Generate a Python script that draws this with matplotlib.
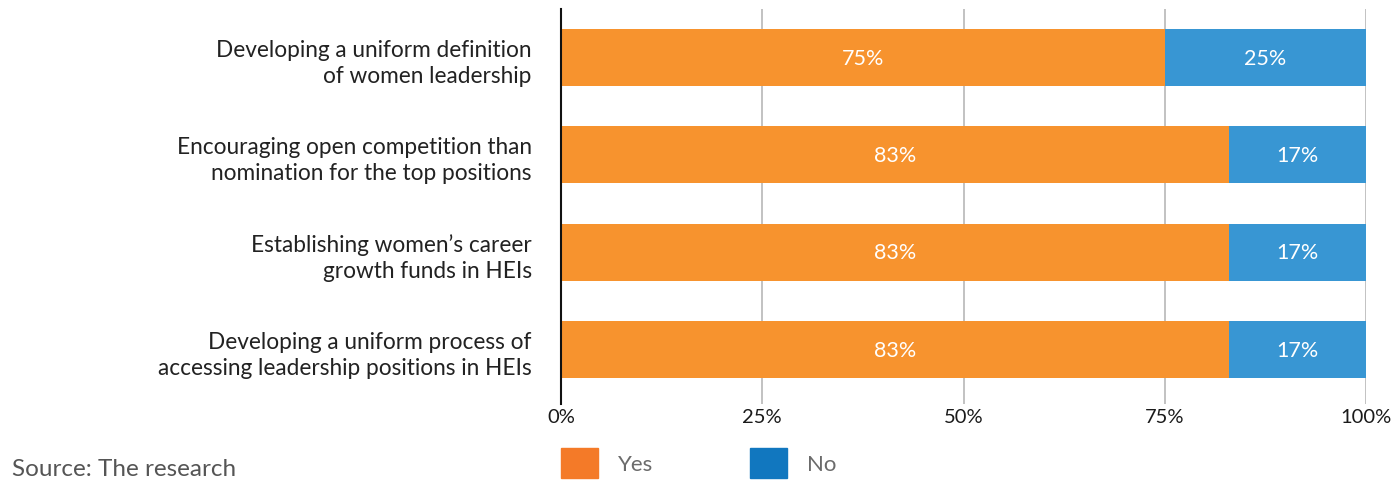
import numpy as np
import matplotlib.pyplot as plt
from matplotlib.patches import Patch

plt.rcParams['font.family'] = ['Lato', 'DejaVu Sans']

strategies = [
    "Developing a uniform definition\nof women leadership",
    "Encouraging open competition than\nnomination for the top positions",
    "Establishing women\u2019s career\ngrowth funds in HEIs",
    "Developing a uniform process of\naccessing leadership positions in HEIs",
]
yes = [75, 83, 83, 83]
no = [25, 17, 17, 17]
ticks = [0, 25, 50, 75, 100]

bar_orange = "#F7932E"
bar_blue = "#3896D3"

fig = plt.figure(figsize=(13.94, 4.81), dpi=100)
ax = fig.add_axes([561 / 1394, 1 - 405 / 481, 805 / 1394, 395 / 481])

y = np.arange(len(strategies))
ax.barh(y, yes, height=0.585, color=bar_orange, zorder=2)
ax.barh(y, no, left=yes, height=0.585, color=bar_blue, zorder=2)

for i in range(len(strategies)):
    ax.text(yes[i] / 2, y[i], f"{yes[i]}%", ha="center", va="center",
            color="white", fontsize=15.5, zorder=3)
    ax.text(yes[i] + no[i] / 2, y[i], f"{no[i]}%", ha="center", va="center",
            color="white", fontsize=15.5, zorder=3)

ax.set_xlim(0, 100)
ax.set_ylim(3.56, -0.5)
ax.set_xticks(ticks)
ax.set_xticklabels([f"{t}%" for t in ticks], fontsize=14.5, color="#1a1a1a")
ax.set_yticks(y)
ax.set_yticklabels(strategies, fontsize=16.3, color="#222222", linespacing=1.3)
ax.tick_params(axis="both", length=0)
ax.tick_params(axis="y", pad=21)
ax.tick_params(axis="x", pad=3)
ax.xaxis.grid(True, color="#bdbdbd", linewidth=1.3, zorder=0)
for s in ["top", "right", "bottom"]:
    ax.spines[s].set_visible(False)
ax.spines["left"].set_color("#111111")
ax.spines["left"].set_linewidth(1.5)
ax.spines["left"].set_zorder(4)

handles = [Patch(color="#F47A28", label="Yes"), Patch(color="#1177BF", label="No")]
fig.legend(handles=handles, loc="upper left", bbox_to_anchor=(541 / 1394, 1 - 429 / 481),
           ncol=2, frameon=False, fontsize=16, handlelength=1.67, handleheight=1.67,
           handletextpad=0.9, columnspacing=4.35, labelcolor="#6b6b6b")

fig.text(12 / 1394, 1 - 480 / 481, "Source: The research", fontsize=17.5, color="#555555",
         ha="left", va="bottom")

fig.savefig("out.png", dpi=100)
